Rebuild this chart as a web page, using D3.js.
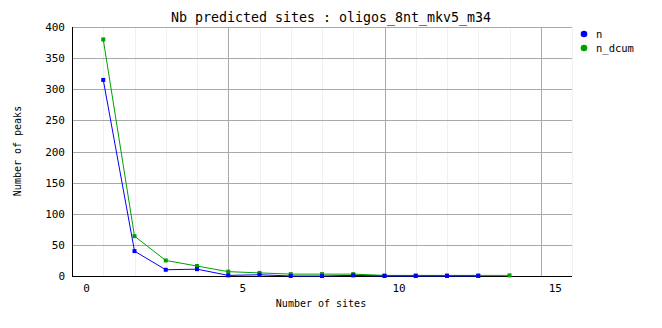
<!DOCTYPE html>
<html>
<head>
<meta charset="utf-8">
<script src="https://cdn.jsdelivr.net/npm/d3@7"></script>
<style>
  body { margin: 0; background: #fff; }
  text { font-family: "DejaVu Sans Mono", monospace; fill: #000; }
</style>
</head>
<body>
<svg width="662" height="328"></svg>
<script>
// data
const sites = [1, 2, 3, 4, 5, 6, 7, 8, 9, 10, 11, 12, 13, 14];
const nVals = [315, 40, 10, 11, 1, 2, 0, 0, 1, 0, 0, 0, 0];
const nDcumVals = [380, 64, 25, 16, 7, 5, 3, 3, 3, 1, 1, 1, 1, 1];
const xTicks = [0, 5, 10, 15];
const yTicks = [0, 50, 100, 150, 200, 250, 300, 350, 400];
const seriesNames = ["n", "n_dcum"];
const seriesColors = ["#0000ff", "#00a000"];

const svg = d3.select("svg");
const x = d3.scaleLinear().domain([0, 16]).range([72, 572]);
const y = d3.scaleLinear().domain([0, 400]).range([276, 27]);

// minor vertical grid
svg.append("g").selectAll("line")
  .data(d3.range(1, 17).filter(d => d % 5 !== 0))
  .enter().append("line")
  .attr("x1", d => Math.round(x(d)) + 0.5).attr("x2", d => Math.round(x(d)) + 0.5)
  .attr("y1", y(400)).attr("y2", y(0))
  .attr("stroke", "#f0f0f0");

// major grid
svg.append("g").selectAll("line")
  .data(xTicks.slice(1))
  .enter().append("line")
  .attr("x1", d => Math.round(x(d)) + 0.5).attr("x2", d => Math.round(x(d)) + 0.5)
  .attr("y1", y(400)).attr("y2", y(0))
  .attr("stroke", "#aaa");
svg.append("g").selectAll("line")
  .data(yTicks.slice(1))
  .enter().append("line")
  .attr("x1", x(0)).attr("x2", x(16))
  .attr("y1", d => Math.round(y(d)) + 0.5).attr("y2", d => Math.round(y(d)) + 0.5)
  .attr("stroke", "#aaa");

// axes
const xAxis = svg.append("g")
  .attr("transform", `translate(0,${y(0)})`)
  .call(d3.axisBottom(x).tickValues(xTicks).tickSize(0).tickPadding(6));
xAxis.select(".domain").remove();
xAxis.selectAll("text")
  .attr("dx", 14).attr("dy", "0.9em")
  .style("font-family", "DejaVu Sans Mono").style("font-size", "11px");

const yAxis = svg.append("g")
  .attr("transform", `translate(${x(0)},0)`)
  .call(d3.axisLeft(y).tickValues(yTicks).tickSize(0).tickPadding(7));
yAxis.select(".domain").remove();
yAxis.selectAll("text")
  .style("font-family", "DejaVu Sans Mono").style("font-size", "11px");

svg.append("line")
  .attr("x1", x(0)).attr("x2", x(16))
  .attr("y1", y(0) + 0.5).attr("y2", y(0) + 0.5)
  .attr("stroke", "#000");
svg.append("line")
  .attr("x1", x(0) + 0.5).attr("x2", x(0) + 0.5)
  .attr("y1", y(400)).attr("y2", y(0))
  .attr("stroke", "#000");

// series
const series = [nVals, nDcumVals];
[1, 0].forEach(i => {
  const pts = series[i].map((v, j) => [sites[j], v]);
  const line = d3.line().x(d => x(d[0])).y(d => y(d[1]));
  svg.append("path")
    .attr("d", line(pts))
    .attr("fill", "none")
    .attr("stroke", seriesColors[i])
    .attr("stroke-width", 1);
  svg.append("g").selectAll("rect")
    .data(pts)
    .enter().append("rect")
    .attr("x", d => x(d[0]) - 2).attr("y", d => y(d[1]) - 2)
    .attr("width", 4).attr("height", 4)
    .attr("fill", seriesColors[i]);
});

// titles
svg.append("text")
  .attr("x", 331).attr("y", 22)
  .attr("text-anchor", "middle")
  .style("font-size", "13.3px")
  .text("Nb predicted sites : oligos_8nt_mkv5_m34");

svg.append("text")
  .attr("x", 321).attr("y", 307)
  .attr("text-anchor", "middle")
  .style("font-size", "10px")
  .text("Number of sites");

svg.append("text")
  .attr("transform", "translate(21,151) rotate(-90)")
  .attr("text-anchor", "middle")
  .style("font-size", "10px")
  .text("Number of peaks");

// legend
const legend = svg.append("g").selectAll("g")
  .data(seriesNames)
  .enter().append("g")
  .attr("transform", (d, i) => `translate(584,${34 + i * 14})`);
legend.append("circle")
  .attr("r", 3.3)
  .attr("fill", (d, i) => seriesColors[i]);
legend.append("text")
  .attr("x", 12).attr("y", 4)
  .style("font-size", "10.5px")
  .text(d => d);
</script>
</body>
</html>
